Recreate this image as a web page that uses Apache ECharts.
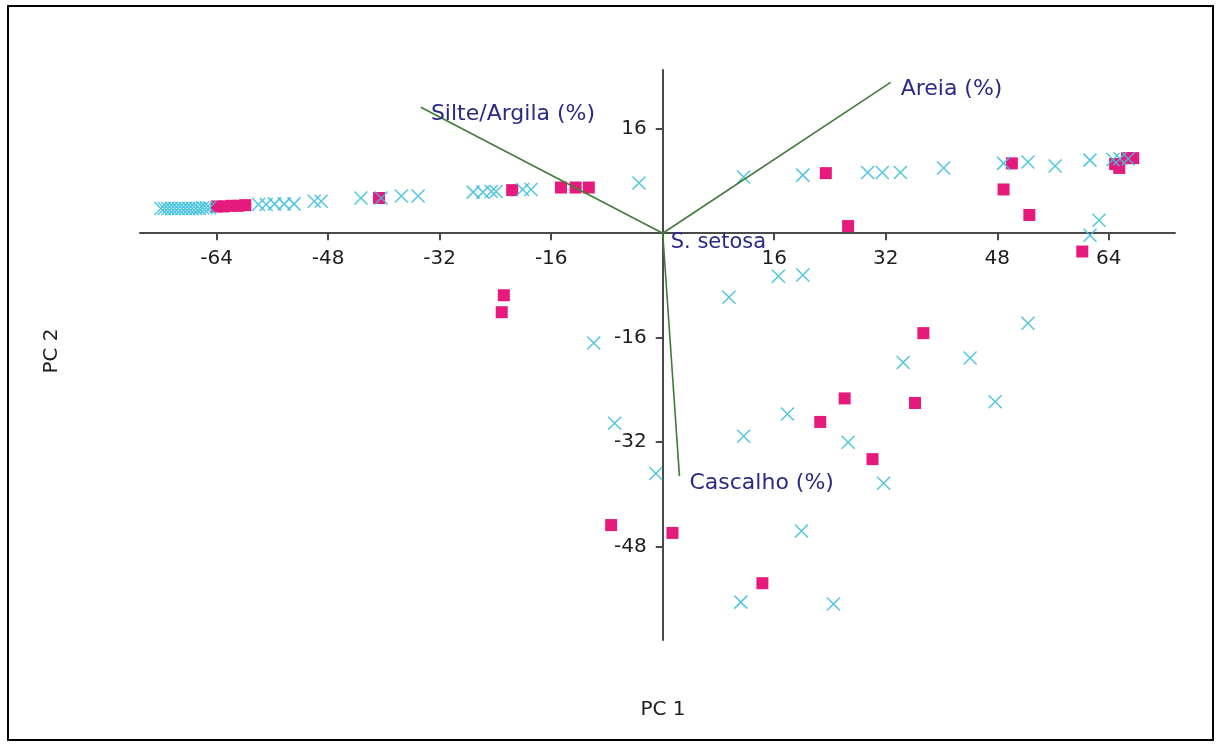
<!DOCTYPE html>
<html>
<head>
<meta charset="utf-8">
<script src="https://cdn.jsdelivr.net/npm/echarts@6/dist/echarts.min.js"></script>
<style>
html,body{margin:0;padding:0;background:#fff;}
#chart{width:1221px;height:745px;}
</style>
</head>
<body>
<div id="chart"></div>
<script>
// ---- data ----
const xTickValues = [-64, -48, -32, -16, 16, 32, 48, 64];
const yTickValues = [-48, -32, -16, 16];

const squarePoints = [
  [-64.0, 4.1], [-63.0, 4.1], [-61.9, 4.2], [-60.9, 4.2], [-59.9, 4.3],
  [-40.7, 5.4],
  [-21.6, 6.6],
  [-14.6, 7.0], [-12.5, 7.0], [-10.6, 7.0],
  [23.4, 9.2], [26.6, 1.1],
  [50.1, 10.7], [48.9, 6.7], [52.6, 2.8],
  [64.9, 10.6], [65.5, 10.0], [66.6, 11.5], [67.5, 11.5],
  [60.2, -2.8],
  [-22.8, -9.5], [-23.1, -12.1],
  [37.4, -15.3], [26.1, -25.3], [36.2, -26.0], [22.6, -28.9], [30.1, -34.6],
  [-7.4, -44.7], [1.4, -45.9], [14.3, -53.6]
];

const crossPoints = [
  [-72.0, 3.8], [-71.5, 3.8], [-71.0, 3.8], [-70.5, 3.8], [-70.0, 3.8], [-69.5, 3.8],
  [-69.0, 3.8], [-68.5, 3.8], [-68.0, 3.8], [-67.5, 3.8], [-67.0, 3.8], [-66.5, 3.8],
  [-66.0, 3.9], [-65.5, 3.9], [-65.0, 3.9],
  [-58.0, 4.4], [-56.9, 4.4], [-55.7, 4.5], [-54.3, 4.5], [-52.9, 4.5],
  [-50.0, 4.9], [-49.0, 4.9],
  [-43.3, 5.4], [-40.4, 5.4],
  [-37.5, 5.7], [-35.1, 5.7],
  [-27.2, 6.3], [-25.8, 6.3], [-24.6, 6.4], [-23.9, 6.4],
  [-20.1, 6.7], [-18.9, 6.7],
  [-3.4, 7.7],
  [11.6, 8.6], [20.1, 8.9], [29.4, 9.3], [31.5, 9.3], [34.1, 9.3], [40.3, 10.0],
  [48.9, 10.7], [52.4, 10.9], [56.3, 10.3], [61.3, 11.2], [64.6, 11.3], [65.6, 11.4], [66.8, 11.4],
  [62.6, 2.0], [61.3, -0.3],
  [16.6, -6.6], [20.1, -6.4], [9.5, -9.8],
  [-9.9, -16.8], [-6.9, -29.1], [-1.0, -36.8],
  [34.5, -19.8], [44.1, -19.1], [52.4, -13.8], [47.7, -25.8],
  [17.9, -27.7], [11.6, -31.1], [26.6, -32.0], [31.7, -38.3],
  [19.9, -45.6], [11.2, -56.5], [24.5, -56.8]
];

const vectorNames = ['Silte/Argila (%)', 'Areia (%)', 'Cascalho (%)'];
const vectorX = [-34.7, 32.7, 2.4];
const vectorY = [19.3, 23.1, -37.2];

const originLabel = 'S. setosa';
const xAxisTitle = 'PC 1';
const yAxisTitle = 'PC 2';

// ---- chart ----
const FONT = '"DejaVu Sans", sans-serif';
const LABEL_BLUE = '#2a2a86';
const TICK_COLOR = '#1e1e1e';
const chart = echarts.init(document.getElementById('chart'), null, {renderer: 'canvas'});

const vectorSeries = vectorNames.map((name, i) => ({
  type: 'line',
  name: name,
  data: [[0, 0], [vectorX[i], vectorY[i]]],
  symbol: 'none',
  lineStyle: {color: '#3f7d36', width: 1.6},
  z: 5,
  silent: true
}));

const vectorLabelSeries = {
  type: 'scatter',
  name: 'vector labels',
  data: vectorNames.map((name, i) => ({value: [vectorX[i], vectorY[i]], name: name})),
  symbolSize: 0,
  itemStyle: {opacity: 1},
  label: {
    show: true,
    formatter: p => p.name,
    position: 'right',
    distance: 10,
    offset: [0, 7],
    color: LABEL_BLUE,
    fontFamily: FONT,
    fontSize: 22
  },
  z: 7,
  silent: true
};

const xTickLabelSeries = {
  type: 'scatter',
  name: 'x tick labels',
  data: xTickValues.map(v => [v, 0]),
  symbolSize: 0,
  itemStyle: {opacity: 1},
  label: {show: true, formatter: p => String(p.value[0]), position: 'bottom', distance: 16, color: TICK_COLOR, fontFamily: FONT, fontSize: 20},
  z: 7,
  silent: true
};

const yTickLabelSeries = {
  type: 'scatter',
  name: 'y tick labels',
  data: yTickValues.map(v => [0, v]),
  symbolSize: 0,
  itemStyle: {opacity: 1},
  label: {show: true, formatter: p => String(p.value[1]), position: 'left', distance: 16, color: TICK_COLOR, fontFamily: FONT, fontSize: 20},
  z: 7,
  silent: true
};

chart.setOption({
  animation: false,
  backgroundColor: '#fff',
  grid: {left: 140, top: 70, width: 1035, height: 570, containLabel: false},
  xAxis: {
    type: 'value',
    min: -75,
    max: 73.5,
    axisLine: {show: true, onZero: true, lineStyle: {color: '#4a4a4a', width: 2}},
    axisTick: {show: true, customValues: xTickValues, length: 7, lineStyle: {color: '#4a4a4a', width: 2}},
    axisLabel: {show: false},
    splitLine: {show: false}
  },
  yAxis: {
    type: 'value',
    min: -62.3,
    max: 25,
    axisLine: {show: true, onZero: true, lineStyle: {color: '#4a4a4a', width: 2}},
    axisTick: {show: true, customValues: yTickValues, length: 7, lineStyle: {color: '#4a4a4a', width: 2}},
    axisLabel: {show: false},
    splitLine: {show: false}
  },
  graphic: [
    {type: 'rect', shape: {x: 8, y: 6, width: 1205, height: 734}, style: {fill: 'none', stroke: '#000', lineWidth: 2}, silent: true},
    {type: 'text', x: 663, y: 710, style: {text: xAxisTitle, font: '20px "DejaVu Sans", sans-serif', fill: TICK_COLOR, textAlign: 'center', textVerticalAlign: 'middle'}},
    {type: 'text', x: 52, y: 351, rotation: Math.PI / 2, style: {text: yAxisTitle, font: '20px "DejaVu Sans", sans-serif', fill: TICK_COLOR, textAlign: 'center', textVerticalAlign: 'middle'}}
  ],
  series: [
    {
      type: 'scatter',
      name: 'squares',
      data: squarePoints,
      symbol: 'rect',
      symbolSize: 12,
      itemStyle: {color: '#e6197c', opacity: 1},
      z: 2
    },
    {
      type: 'scatter',
      name: 'crosses',
      data: crossPoints,
      symbol: 'path://M0,0L10,10M10,0L0,10',
      symbolSize: 13,
      itemStyle: {color: 'rgba(0,0,0,0)', borderColor: '#3fc0dc', borderWidth: 1.5, opacity: 0.9},
      z: 3
    },
    ...vectorSeries,
    vectorLabelSeries,
    xTickLabelSeries,
    yTickLabelSeries,
    {
      type: 'scatter',
      name: 'origin',
      data: [{value: [0, 0], name: originLabel}],
      symbolSize: 0,
      itemStyle: {opacity: 1},
      label: {show: true, formatter: p => p.name, position: 'right', offset: [3, 9], color: LABEL_BLUE, fontFamily: FONT, fontSize: 21},
      z: 6,
      silent: true
    }
  ]
});
</script>
</body>
</html>
